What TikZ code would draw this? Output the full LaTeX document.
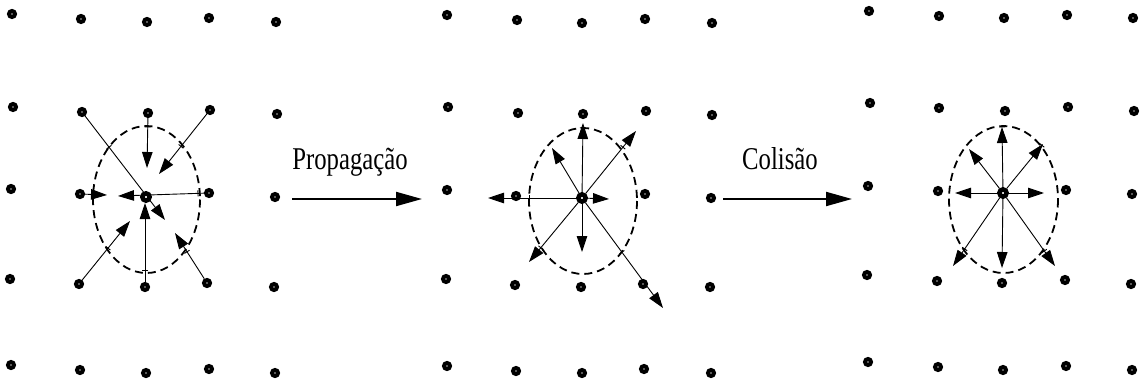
\documentclass[tikz,border=0pt]{standalone}
\usepackage{fontspec}
\usepackage{graphicx}
\setmainfont{Liberation Serif}
\usetikzlibrary{arrows.meta}
\pgfdeclarelayer{bg}
\pgfsetlayers{bg,main}
\begin{document}
\begin{tikzpicture}[x=1pt,y=-1pt,
  dot/.style={circle,draw,fill=white,line width=4pt,minimum size=6pt,inner sep=0pt},
  cdot/.style={dot,line width=4.6pt,minimum size=7.2pt},
  vec/.style={line width=0.9pt,-{Triangle[length=16pt,width=10.5pt]}},
  big/.style={line width=2pt,-{Triangle[length=26pt,width=14pt]}},
  tk/.style={sloped,inner sep=0pt,outer sep=0pt,pos=#1},
  ell/.style={dash pattern=on 8pt off 5pt,line width=1.8pt},
  lbl/.style={anchor=base,inner sep=0pt,font=\fontsize{31.7}{36}\selectfont}]
\useasboundingbox (0,0) rectangle (1146,385);

% ---------- lattice sites ----------
\foreach \x/\y/\n in {
  12/14/d111, 81/19/d112, 147/22/d113, 209/18/d114, 276/22/d115,
  13/107/d121, 82/112/d122, 148/113/d123, 210/110/d124, 277/114/d125,
  11/189/d131, 80/194/d132, 209/193/d134, 275/197/d135,
  10/279/d141, 79/284/d142, 145/287/d143, 207/283/d144, 274/287/d145,
  11/365/d151, 80/370/d152, 146/373/d153, 209/369/d154, 275/373/d155,
  447/15/d211, 517/20/d212, 582/23/d213, 645/19/d214, 712/23/d215,
  448/107/d221, 518/113/d222, 583/114/d223, 646/111/d224, 712/115/d225,
  447/190/d231, 516/196/d232, 645/194/d234, 711/198/d235,
  446/279/d241, 515/285/d242, 581/287/d243, 643/284/d244, 710/287/d245,
  447/366/d251, 516/371/d252, 582/373/d253, 644/369/d254, 711/373/d255,
  869/11/d311, 939/16/d312, 1004/18/d313, 1067/15/d314, 1133/18/d315,
  870/103/d321, 939/108/d322, 1005/111/d323, 1068/107/d324, 1134/111/d325,
  868/186/d331, 938/191/d332, 1066/190/d334, 1132/194/d335,
  867/275/d341, 937/281/d342, 1002/283/d343, 1065/280/d344, 1131/284/d345,
  868/362/d351, 938/367/d352, 1003/370/d353, 1066/366/d354, 1132/370/d355}
  \node[dot] (\n) at (\x,\y) {};
\node[cdot] (d133) at (146,197) {};
\node[cdot] (d233) at (582,198) {};
\node[cdot] (d333) at (1003,193) {};

% ---------- arrow tips ----------
\coordinate (t1a) at (165,220);
\coordinate (t1b) at (147,168);
\coordinate (t1c) at (159,174);
\coordinate (t1d) at (107,195);
\coordinate (t1e) at (118,196);
\coordinate (t1f) at (130,221);
\coordinate (t1g) at (145,203);
\coordinate (t1h) at (175,233);

\coordinate (t2a) at (583,123);
\coordinate (t2b) at (636,131);
\coordinate (t2c) at (609,199);
\coordinate (t2d) at (488,198);
\coordinate (t2e) at (552,148);
\coordinate (t2f) at (582,252);
\coordinate (t2g) at (529,262);
\coordinate (t2h) at (663,308);

\coordinate (t3a) at (1002,127);
\coordinate (t3b) at (1043,144);
\coordinate (t3c) at (1044,193);
\coordinate (t3d) at (955,193);
\coordinate (t3e) at (969,149);
\coordinate (t3f) at (1002,268);
\coordinate (t3g) at (953,266);
\coordinate (t3h) at (1055,266);

\coordinate (pa) at (292,199);
\coordinate (pb) at (422,199);
\coordinate (ca) at (723,199);
\coordinate (cb) at (852,199);

\begin{pgfonlayer}{bg}
  % ellipses
  \draw[ell] (146.5,199.5) ellipse [x radius=53.5, y radius=73.5];
  \draw[ell] (583,201) ellipse [x radius=54, y radius=73];
  \draw[ell] (1003.5,199.5) ellipse [x radius=54.5, y radius=73.5];

  % panel 1: incoming particles
  \draw[vec] (d122) -- node[tk=0.30]{\rule{0.9pt}{6pt}} (t1a);
  \draw[vec] (d123) -- node[tk=0.18]{\rule{0.9pt}{6pt}} (t1b);
  \draw[vec] (d124) -- node[tk=0.54]{\rule{0.9pt}{6pt}} (t1c);
  \draw[vec] (d132) -- (t1d);
  \draw[vec] (d134) -- node[tk=0.07]{\rule{0.9pt}{6pt}} (t1e);
  \draw[vec] (d142) -- node[tk=0.54]{\rule{0.9pt}{6pt}} (t1f);
  \draw[vec] (d143) -- node[tk=0.14]{\rule{0.9pt}{6pt}} (t1g);
  \draw[vec] (d144) -- node[tk=0.59]{\rule{0.9pt}{6pt}} (t1h);

  % panel 2: after propagation
  \draw[vec] (d233) -- node[tk=0.93]{\rule{0.9pt}{6pt}} (t2a);
  \draw[vec] (d233) -- node[tk=0.74]{\rule{0.9pt}{6pt}} (t2b);
  \draw[vec] (d233) -- (t2c);
  \draw[vec] (d233) -- node[tk=0.53]{\rule{0.9pt}{6pt}} (t2d);
  \draw[vec] (d233) -- (t2e);
  \draw[vec] (d233) -- (t2f);
  \draw[vec] (d233) -- node[tk=0.76]{\rule{0.9pt}{6pt}} (t2g);
  \draw[vec] (d233) -- node[tk=0.47]{\rule{0.9pt}{6pt}} (t2h);

  % panel 3: after collision
  \draw[vec] (d333) -- node[tk=1]{\rule{0.9pt}{6pt}} (t3a);
  \draw[vec] (d333) -- node[tk=0.97]{\rule{0.9pt}{6pt}} (t3b);
  \draw[vec] (d333) -- (t3c);
  \draw[vec] (d333) -- (t3d);
  \draw[vec] (d333) -- (t3e);
  \draw[vec] (d333) -- (t3f);
  \draw[vec] (d333) -- node[tk=0.75]{\rule{0.9pt}{6pt}} (t3g);
  \draw[vec] (d333) -- node[tk=0.78]{\rule{0.9pt}{6pt}} (t3h);
\end{pgfonlayer}

% ---------- step arrows and labels ----------
\draw[big] (pa) -- (pb);
\draw[big] (ca) -- (cb);
\node[lbl] (prop) at (350,169) {\scalebox{0.78}[1]{Propagação}};
\node[lbl] (col) at (780,169) {\scalebox{0.78}[1]{Colisão}};
\end{tikzpicture}
\end{document}
